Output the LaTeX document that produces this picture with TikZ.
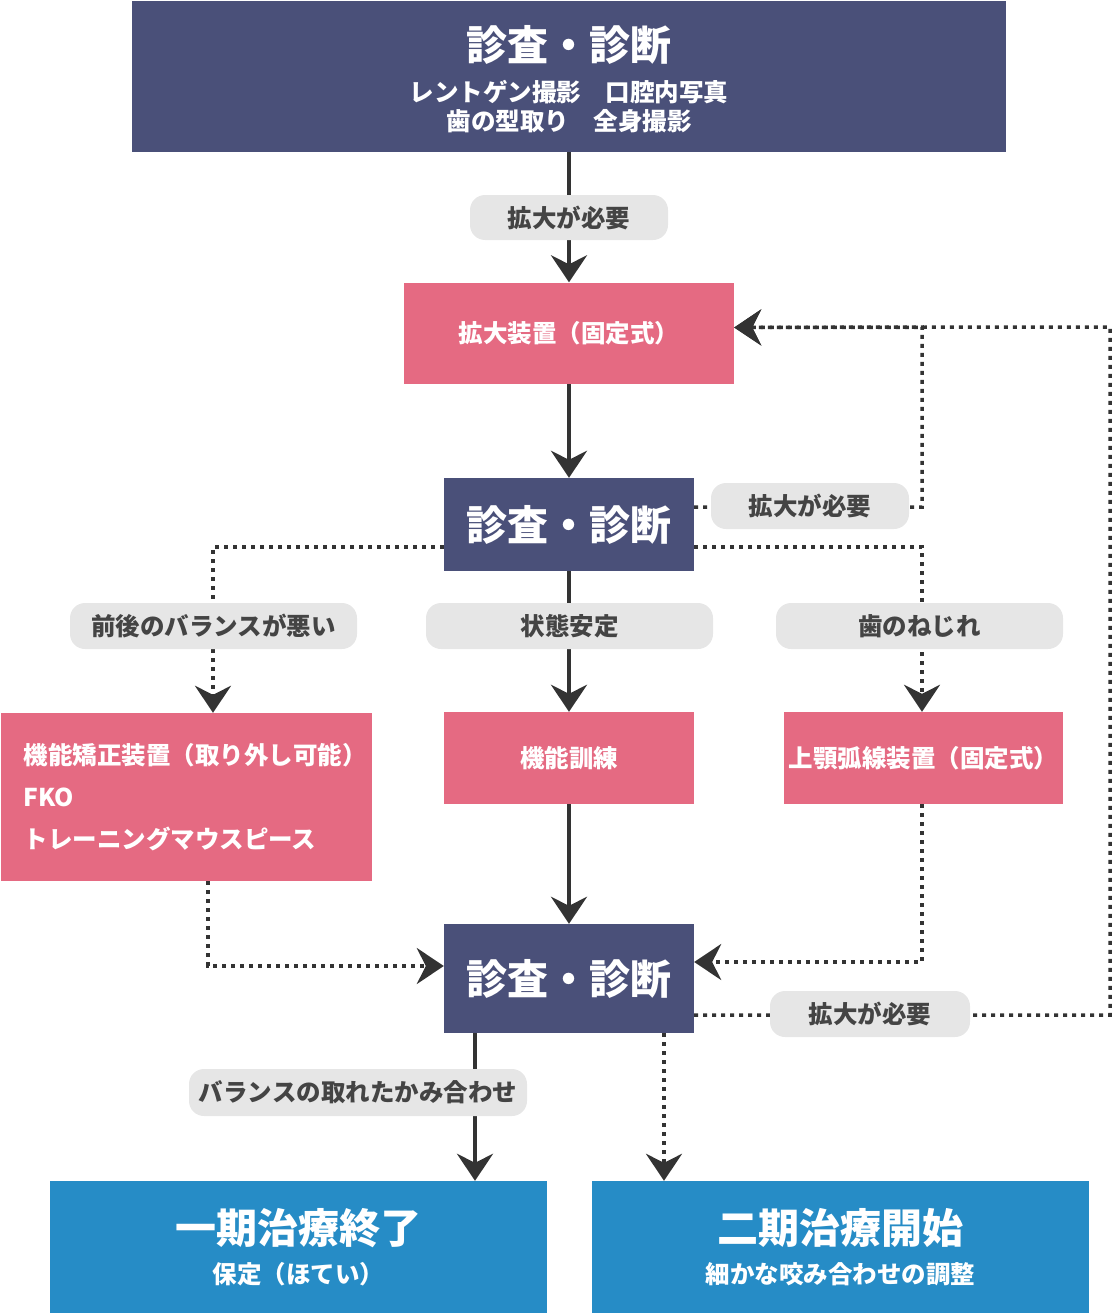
\documentclass[tikz,border=0pt]{standalone}
\usepackage{fontspec}
\setmainfont{Noto Sans CJK JP}
\usetikzlibrary{arrows.meta,backgrounds}
\definecolor{navy}{HTML}{4A5079}
\definecolor{rose}{HTML}{E56A82}
\definecolor{sky}{HTML}{268CC6}
\definecolor{pillgray}{HTML}{E6E6E6}
\definecolor{ink}{HTML}{333333}
\definecolor{labink}{HTML}{444444}
\begin{document}
\begin{tikzpicture}[x=1pt,y=-1pt,
  box/.style={draw=none,inner sep=0pt,text=white,font=\fontsize{24.5pt}{29pt}\selectfont\bfseries,align=center},
  navybox/.style={box,fill=navy},
  rosebox/.style={box,fill=rose},
  skybox/.style={box,fill=sky},
  pill/.style={fill=pillgray,rounded corners=15pt,inner sep=0pt,text=labink,font=\fontsize{24.5pt}{28pt}\selectfont\bfseries},
  big/.style={font=\fontsize{41pt}{50pt}\selectfont\bfseries},
  tip/.style={-{Stealth[length=27pt,width=36pt,inset=9pt]}},
  solidline/.style={draw=ink,line width=4pt,tip},
  dotline/.style={draw=ink,line width=3.5pt,dash pattern=on 4pt off 5pt,tip}]
\useasboundingbox (0,0) rectangle (1112,1314);

% boxes
\node[navybox,minimum width=874pt,minimum height=151pt] (top) at (569,76.5)
  {{\fontsize{41pt}{41pt}\selectfont\rule{0pt}{41pt}診査・診断}\\[12pt]レントゲン撮影　口腔内写真\\歯の型取り　全身撮影};
\node[rosebox,minimum width=330pt,minimum height=101pt] (exp) at (569,333) {拡大装置（固定式）};
\node[navybox,big,minimum width=250pt,minimum height=93pt] (dx2) at (569,524.5) {診査・診断};
\node[rosebox,minimum width=371pt,minimum height=168pt,align=left,text width=325pt] (func) at (186,797)
  {機能矯正装置（取り外し可能）\\[13pt]FKO\\[13pt]トレーニングマウスピース};
\node[rosebox,minimum width=250pt,minimum height=92pt] (train) at (569,758) {機能訓練};
\node[rosebox,minimum width=279pt,minimum height=92pt] (arch) at (923.5,758) {上顎弧線装置（固定式）};
\node[navybox,big,minimum width=250pt,minimum height=109pt] (dx3) at (569,978.5) {診査・診断};
\node[skybox,minimum width=497pt,minimum height=132pt] (end1) at (298.5,1247)
  {{\fontsize{41pt}{41pt}\selectfont 一期治療終了}\\[11pt]保定（ほてい）};
\node[skybox,minimum width=497pt,minimum height=132pt] (start2) at (840.5,1247)
  {{\fontsize{41pt}{41pt}\selectfont 二期治療開始}\\[11pt]細かな咬み合わせの調整};

% labels
\node[pill,minimum width=198pt,minimum height=45pt] (l1) at (569,217.5) {拡大が必要};
\node[pill,minimum width=198pt,minimum height=46pt] (l2) at (810,506) {拡大が必要};
\node[pill,minimum width=287pt,minimum height=46pt] (l3) at (213.5,626) {前後のバランスが悪い};
\node[pill,minimum width=287pt,minimum height=46pt] (l4) at (569.5,626) {状態安定};
\node[pill,minimum width=287pt,minimum height=46pt] (l5) at (919.5,626) {歯のねじれ};
\node[pill,minimum width=200pt,minimum height=46pt] (l6) at (870,1014) {拡大が必要};
\node[pill,minimum width=338pt,minimum height=47pt] (l7) at (358,1092.5) {バランスの取れたかみ合わせ};

\coordinate (loopTop) at (1110,327);
\coordinate (loopBot) at (1110,1015);
\coordinate (midTop) at (922,327);

\begin{pgfonlayer}{background}
\draw[solidline] (top.south) -- (exp.north);
\draw[solidline] (exp.south) -- (dx2.north);
\draw[solidline] (dx2.south) -- (train.north);
\draw[solidline] (train.south) -- (dx3.north);
\draw[solidline] ([xshift=-94pt]dx3.south) -- ([xshift=-94pt]dx3.south |- end1.north);
\draw[dotline] ([xshift=95pt]dx3.south) -- ([xshift=95pt]dx3.south |- start2.north);
\draw[dotline] ([yshift=-22.5pt]dx2.west) -| ([xshift=27pt]func.north);
\draw[dotline] ([yshift=-22.5pt]dx2.east) -| ([xshift=-1.5pt]arch.north);
\draw[dotline] ([xshift=22pt]func.south) |- ([yshift=12.5pt]dx3.west);
\draw[dotline] ([xshift=-1.5pt]arch.south) |- ([yshift=16.5pt]dx3.east);
\draw[dotline] ([yshift=17.5pt]dx2.east) -| (midTop) -- ([yshift=5.5pt]exp.east);
\draw[dotline] ([yshift=-36.5pt]dx3.east) -- (loopBot) -- (loopTop) -- ([yshift=5.5pt]exp.east);
\end{pgfonlayer}
\end{tikzpicture}
\end{document}
